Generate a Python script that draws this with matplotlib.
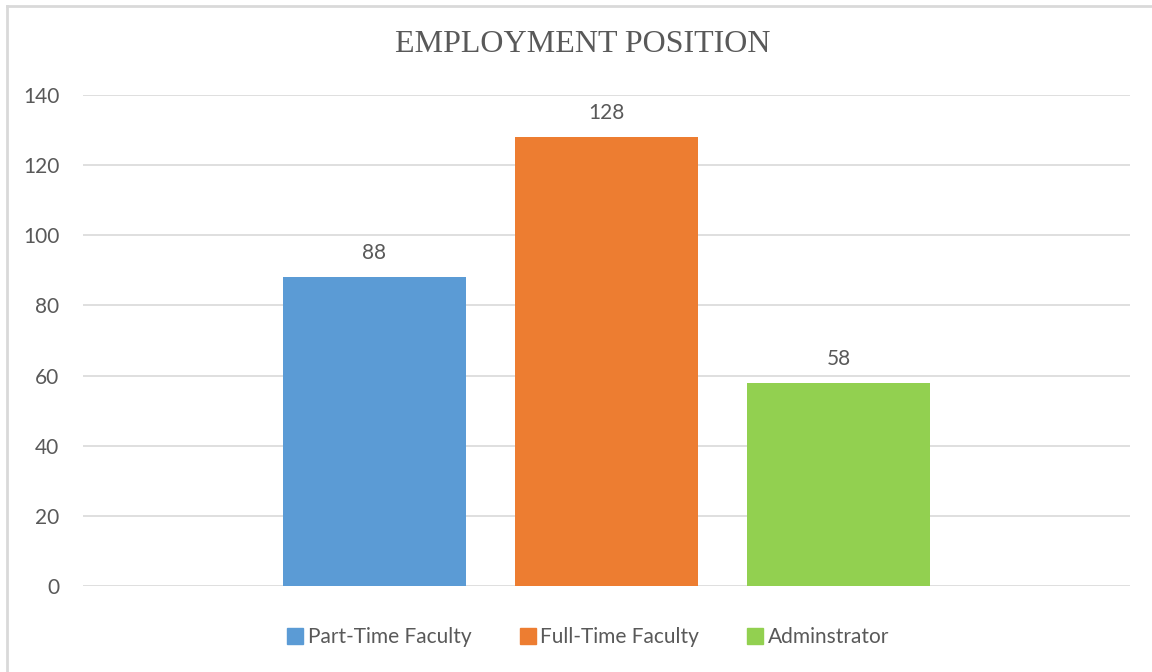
import numpy as np
import matplotlib.pyplot as plt
from matplotlib.lines import Line2D

categories = ["Part-Time Faculty", "Full-Time Faculty", "Adminstrator"]
values = [88, 128, 58]
colors = ["#5b9bd5", "#ed7d31", "#92d050"]
yticks = [0, 20, 40, 60, 80, 100, 120, 140]

W, H = 1152, 672
fig = plt.figure(figsize=(W / 100, H / 100), dpi=100)
gray = "#595959"
sans = ["Lato", "DejaVu Sans"]

# axes box in pixels: x 83..1130, y 95..586
ax = fig.add_axes([83 / W, 1 - 586 / H, (1130 - 83) / W, (586 - 95) / H])
x = np.arange(len(values))
bars = ax.bar(x, values, width=183 / 232, color=colors, zorder=3)
ax.set_xlim(-(374.5 - 83) / 232, -(374.5 - 83) / 232 + 1047 / 232)
ax.set_ylim(0, 140)
ax.set_yticks(yticks)
ax.set_xticks([])
ax.grid(axis="y", color="#d9d9d9", linewidth=1.2, zorder=0)
for s in ax.spines.values():
    s.set_visible(False)
ax.tick_params(axis="y", length=0, pad=17, labelsize=15, labelcolor=gray)
for lab in ax.get_yticklabels():
    lab.set_family(sans)

for b, v in zip(bars, values):
    ax.annotate(str(v), (b.get_x() + b.get_width() / 2, v), xytext=(0, 10),
                textcoords="offset points", ha="center", va="bottom",
                fontsize=15, color=gray, family=sans)

fig.text(583 / W, 1 - 45 / H, "EMPLOYMENT POSITION", ha="center", va="center",
         fontsize=23, color=gray, family="Liberation Serif")

handles = [Line2D([], [], marker="s", linestyle="none", markersize=11,
                  markerfacecolor=c, markeredgecolor=c) for c in colors]
fig.legend(handles, categories, loc="center", bbox_to_anchor=(587 / W, 1 - 637 / H),
           ncol=3, frameon=False, prop={"family": sans, "size": 15},
           labelcolor=gray, handletextpad=0.1, columnspacing=2.2, handlelength=1.0)

# outer border (only top and left visible in the reference)
fig.add_artist(Line2D([6.5 / W, 6.5 / W], [0, 1 - 5.5 / H], transform=fig.transFigure,
                      color="#d9d9d9", linewidth=2))
fig.add_artist(Line2D([6.5 / W, 1], [1 - 5.5 / H, 1 - 5.5 / H], transform=fig.transFigure,
                      color="#d9d9d9", linewidth=2))

fig.savefig("out.png", dpi=100, facecolor="white")
